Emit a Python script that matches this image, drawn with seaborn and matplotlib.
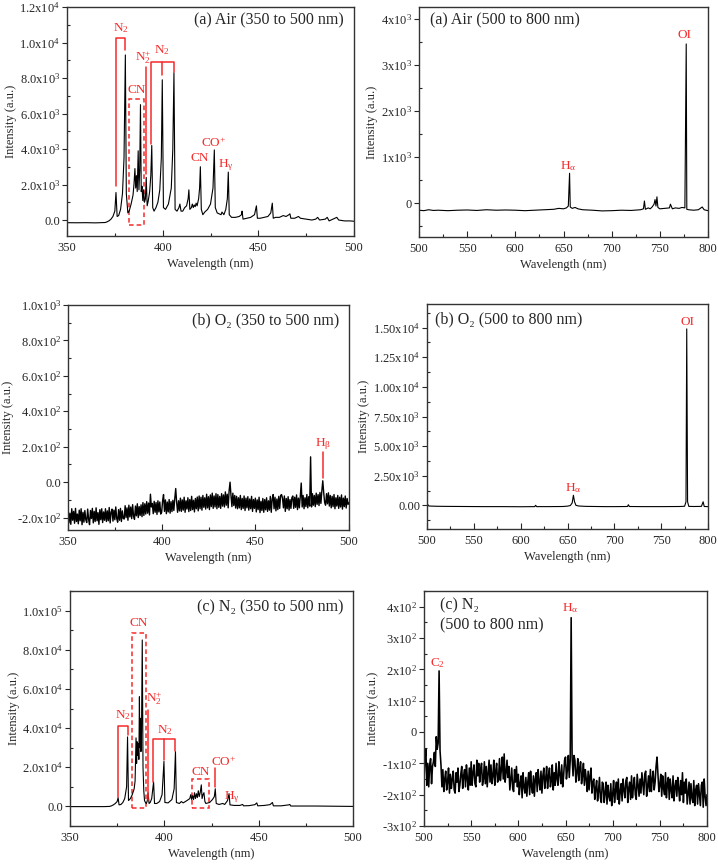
import numpy as np
import pandas as pd
import matplotlib
matplotlib.use("Agg")
import matplotlib.pyplot as plt
from matplotlib.patches import Rectangle
from matplotlib.ticker import FixedLocator, FixedFormatter, MultipleLocator
import seaborn as sns

sns.set_theme(style="white")
plt.rcParams['font.family'] = ['Liberation Serif', 'DejaVu Serif']
plt.rcParams['mathtext.fontset'] = 'custom'
plt.rcParams['mathtext.rm'] = 'Liberation Serif'
plt.rcParams['mathtext.default'] = 'regular'

RED = '#f52a2a'

# ---------------- DATA ----------------
# (a) Air 350-500 nm
airA_wl = [350, 355, 360, 365, 368, 370, 371, 372, 373, 374, 375, 375.6, 376.2, 377, 378, 379, 379.8, 380.5,
           381, 381.8, 382.5, 383.5, 384.5, 385, 385.5, 385.9, 386.3, 386.7, 387.2, 387.6, 388.0, 388.4,
           388.8, 389.2, 389.6, 390, 390.5, 391.0, 391.4, 391.9, 392.5, 393.2, 393.8, 394.3, 394.8, 395.5,
           396.5, 397.5, 398.5, 399.3, 399.8, 400.4, 401.5, 403, 404.5, 405.3, 405.9, 406.5, 407.5, 408.5,
           409, 409.6, 410.5, 411.5, 412.5, 413.3, 413.7, 414.2, 415, 415.5, 416, 416.5, 417, 417.5, 418,
           418.8, 419.3, 419.7, 420.2, 421, 422, 423.5, 425, 426.3, 427, 427.5, 428.5, 429.5, 430.5, 431,
           432, 433, 433.8, 434.3, 434.8, 436, 438, 440, 441.2, 441.5, 442, 444, 446, 448, 449, 449.5, 451,
           453, 455, 456.5, 457.3, 457.8, 459, 461, 463, 464.5, 466, 466.5, 467, 469, 471, 472, 475, 478,
           480, 481, 482, 485, 486, 487, 489, 491, 492, 495, 498, 500]
airA_int = [-150, -155, -150, -160, -150, -140, -100, -40, 50, 200, 500, 1550, 200, 250, 600, 1500, 3500, 9300,
            1500, 400, 500, 900, 1400, 2000, 2900, 1800, 2500, 1600, 3900, 1700, 2800, 6500,
            1600, 1900, 1100, 1700, 1000, 1200, 2400, 800, 1100, 1600, 2500, 4200, 700, 500,
            700, 1000, 1700, 3500, 7900, 700, 600, 900, 1800, 4000, 8300, 600, 500, 700,
            900, 500, 500, 700, 800, 1200, 1700, 600, 700, 900, 700, 850, 750, 950, 800,
            1200, 1800, 3000, 600, 300, 450, 600, 900, 1800, 3950, 700, 400, 350, 300, 450,
            300, 600, 1200, 2700, 300, 150, 150, 200, 300, 500, 50, 100, 150, 300, 800, 100, 100,
            150, 200, 400, 950, 100, 150, 150, 250, 200, 300, 350, 100, 100, 200, 100, 50, 0,
            50, 150, 0, 50, 150, -50, 50, 150, 0, -50, -50, -70]

# (a) Air 500-800 nm
airB_wl = [500, 505, 510, 515, 520, 530, 540, 550, 560, 570, 580, 590, 600, 610, 620, 630, 640, 645, 650,
           653, 655, 656.3, 657, 659, 662, 665, 670, 680, 690, 700, 710, 720, 730, 733, 734, 735, 738, 740,
           742, 744, 745, 746, 747, 748, 750, 755, 760, 761, 763, 766, 770, 773, 776, 777.4, 778, 780, 785,
           790, 794, 795, 796, 800]
airB_int = [-150, -160, -140, -155, -150, -160, -150, -145, -155, -140, -150, -145, -150, -160, -150, -140,
            -130, -110, -120, -100, -60, 650, -80, -110, -90, -120, -140, -150, -165, -160, -150, -155, -140,
            -120, 50, -130, -100, -120, -80, -20, 80, -60, 140, -90, -120, -110, -100, -20, -120, -100, -110,
            -90, -100, 3450, -130, -140, -150, -140, -80, -110, -140, -160]

# (b) O2 350-500 nm, sampled every 0.5 nm
o2A_int = [
    -155, -230, -175, -238, -150, -215, -165, -232, -148, -222, -180, -235, -158, -218, -150, -240, -170, -226, -160, -212,
    -228, -152, -210, -240, -160, -205, -148, -230, -165, -222, -145, -218, -172, -238, -155, -212, -150, -228, -168, -215,
    -150, -222, -162, -218, -143, -230, -170, -152, -220, -158, -212, -140, -205, -226, -155, -215, -148, -222, -162, -205,
    -208, -133, -200, -145, -215, -130, -196, -140, -206, -127, -193, -210, -135, -190, -122, -200, -138, -188, -128, -195,
    -115, -188, -122, -180, -110, -175, -118, -185, -68, -140, -120, -178, -108, -170, -115, -182, -105, -168, -112, -180,
    -170, -105, -70, -165, -100, -178, -112, -168, -98, -175, -110, -166, -102, -160, -92, -36, -115, -170, -105, -162,
    -90, -165, -100, -158, -85, -170, -105, -152, -88, -166, -98, -160, -80, -155, -102, -168, -92, -150, -84, -162,
    -78, -150, -85, -158, -75, -142, -88, -152, -68, -145, -82, -155, -72, -138, -62, -148, -78, -140, -65, -150,
    -70, -142, -80, -148, -65, -135, -72, -140, -55, -130, -68, -145, -50, 0, -75, -138, -62, -132, -75, -146,
    -80, -150, -88, -145, -75, -155, -92, -148, -78, -160, -90, -145, -82, -158, -95, -150, -80, -165, -98, -148,
    -90, -168, -100, -155, -85, -172, -108, -160, -92, -170, -98, -156, -88, -165, -105, -158, -80, -170, -95, -70,
    -150, -85, -162, -95, -155, -80, -148, -75, -70, -90, -145, -78, -165, -92, -150, -82, -158, -98, -148, -88,
    -78, -148, -85, -142, -72, -155, -90, -145, -80, -5, -140, -75, -150, -88, -138, -70, -145, -82, -135, 143,
    -140, -65, -130, -75, -138, -62, -125, -70, -132, -58, -120, -50, 8, -60, -115, -130, -65, -122, -60, -135,
    -75, -145, -80, -138, -70, -150, -88, -135, -75, -148, -85, -140, -72, -152, -90, -138, -78, -146, -92, -125,
    -115]
o2A_wl = np.linspace(350, 500, len(o2A_int))

# (b) O2 500-800 nm
o2B_wl = [500, 501, 502, 510, 520, 540, 560, 580, 600, 615, 616, 617, 630, 645, 650, 653, 655, 656.3, 657.5,
          659, 662, 670, 690, 700, 714, 715, 716, 730, 750, 770, 775, 776.5, 777.3, 778.2, 779.5, 785, 793,
          794.8, 796, 800]
o2B_int = [-50, 50, -60, -80, -90, -100, -110, -110, -120, -110, 0, -110, -110, -100, -70, -20, 200, 850, 300,
           0, -60, -90, -110, -110, -100, 50, -100, -110, -110, -100, -80, 300, 14900, 300, -90, -100, -90,
           300, -100, -110]

# (c) N2 350-500 nm
n2A_wl = [350, 360, 368, 371, 372, 373, 374, 375, 375.5, 376, 377, 378, 379, 380, 380.5, 381, 382, 383, 384,
          384.5, 385, 385.3, 385.6, 385.9, 386.2, 386.5, 386.8, 387.0, 387.3, 387.6, 387.9, 388.3, 388.7,
          389.1, 389.5, 390.0, 390.5, 391.0, 391.4, 391.9, 392.5, 393.3, 394.3, 394.8, 396, 397.5, 398.8,
          399.8, 400.3, 402, 404, 405.2, 405.9, 406.4, 408, 409, 410, 412, 413.5, 414, 414.5, 415, 415.5,
          416, 416.5, 417, 417.5, 418, 418.5, 419, 419.6, 420, 420.5, 421, 421.5, 422, 424, 425.5, 426.5,
          427, 427.5, 429, 431, 432, 433.5, 434.3, 434.8, 437, 440, 441.5, 442, 445, 448, 449, 449.5, 453,
          456, 457.3, 457.8, 462, 466, 466.5, 467, 472, 480, 490, 500]
n2A_int = [-100, -100, -100, 0, 300, 800, 1500, 2500, 4500, 800, 1000, 2000, 4000, 10000, 35500, 3000, 4000,
           6000, 9000, 13000, 35000, 22000, 33000, 26000, 32000, 24000, 56000, 30000, 45000, 28000, 38000,
           85000, 20000, 8000, 3000, 2000, 1500, 3000, 7000, 1500, 2000, 4000, 12500, 1500, 1500, 2500, 6000,
           23000, 2000, 1800, 3500, 9000, 28000, 2000, 1500, 2500, 1800, 3000, 4000, 6000, 3500, 5500, 3500,
           7000, 4000, 6500, 4500, 8000, 5000, 7000, 11000, 4000, 6000, 7000, 2500, 1500, 2000, 3500, 5000,
           9000, 1500, 1000, 1500, 1000, 3000, 6500, 800, 500, 500, 1000, 300, 400, 900, 1800, 300, 500,
           900, 2000, 300, 300, 800, 1000, 200, 200, 200, 100, 0]

# (c) N2 500-800 nm, sampled every 1 nm
n2B_int = [
    -150, -90, -55, -170, -100, -175, -105, -85, -165, -110,
    -95, -65, -110, -15, -55, -35, 195, -60, -105, -175,
    -120, -190, -150, -125, -185, -160, -115, -195, -135, -180,
    -150, -125, -185, -195, -130, -160, -115, -190, -170, -135,
    -110, -180, -140, -120, -175, -105, -150, -185, -115, -170,
    -95, -170, -130, -105, -165, -175, -90, -140, -100, -160,
    -120, -100, -170, -150, -95, -165, -110, -175, -130, -90,
    -160, -105, -165, -140, -90, -170, -125, -100, -160, -150,
    -85, -155, -120, -80, -150, -70, -160, -130, -90, -145,
    -110, -185, -150, -115, -180, -190, -120, -160, -110, -175,
    -135, -200, -165, -140, -210, -130, -175, -195, -145, -205,
    -160, -130, -200, -125, -175, -195, -140, -205, -150, -130,
    -190, -120, -160, -185, -125, -195, -140, -115, -180, -150,
    -110, -180, -140, -115, -175, -155, -105, -185, -130, -170,
    -100, -150, -170, -95, -135, -165, -105, -175, -140, -90,
    -80, -150, -120, -75, -145, -90, 365, -80, -140, -75,
    -90, -160, -130, -85, -155, -115, -95, -165, -140, -100,
    -170, -120, -150, -190, -125, -185, -140, -115, -195, -160,
    -150, -215, -180, -155, -220, -190, -145, -210, -225, -160,
    -165, -225, -195, -160, -230, -170, -205, -220, -165, -235,
    -200, -155, -225, -185, -160, -215, -150, -230, -190, -165,
    -220, -150, -185, -210, -155, -145, -225, -180, -160, -215,
    -140, -210, -175, -145, -200, -215, -135, -170, -205, -150,
    -195, -130, -165, -200, -135, -125, -205, -175, -140, -190,
    -120, -190, -150, -125, -185, -160, -110, -80, -135, -190,
    -170, -135, -205, -140, -180, -200, -130, -210, -165, -145,
    -215, -150, -185, -210, -140, -220, -175, -155, -205, -145,
    -180, -220, -155, -200, -130, -225, -160, -195, -150, -230,
    -195, -160, -230, -165, -210, -225, -155, -235, -185, -170,
    -230, -165, -200, -235, -170, -160, -240, -150, -205, -235,
    -200]
n2B_wl = np.linspace(500, 800, len(n2B_int))

# tick labels
aL_ticks = [0, 2000, 4000, 6000, 8000, 10000, 12000]
aL_labels = ["0.0", "2.0x10$^3$", "4.0x10$^3$", "6.0x10$^3$", "8.0x10$^3$", "1.0x10$^4$", "1.2x10$^4$"]
aR_ticks = [0, 1000, 2000, 3000, 4000]
aR_labels = ["0", "1x10$^3$", "2x10$^3$", "3x10$^3$", "4x10$^3$"]
bL_ticks = [-200, 0, 200, 400, 600, 800, 1000]
bL_labels = ["-2.0x10$^2$", "0.0", "2.0x10$^2$", "4.0x10$^2$", "6.0x10$^2$", "8.0x10$^2$", "1.0x10$^3$"]
bR_ticks = [0, 2500, 5000, 7500, 10000, 12500, 15000]
bR_labels = ["0.00", "2.50x10$^3$", "5.00x10$^3$", "7.50x10$^3$", "1.00x10$^4$", "1.25x10$^4$", "1.50x10$^4$"]
cL_ticks = [0, 20000, 40000, 60000, 80000, 100000]
cL_labels = ["0.0", "2.0x10$^4$", "4.0x10$^4$", "6.0x10$^4$", "8.0x10$^4$", "1.0x10$^5$"]
cR_ticks = [-300, -200, -100, 0, 100, 200, 300, 400]
cR_labels = ["-3x10$^2$", "-2x10$^2$", "-1x10$^2$", "0", "1x10$^2$", "2x10$^2$", "3x10$^2$", "4x10$^2$"]

# ---------------- FIGURE ----------------
W, H = 718, 866
fig = plt.figure(figsize=(W / 100, H / 100), dpi=100)


def make_ax(l, t, r, b):
    return fig.add_axes([l / W, 1 - b / H, (r - l) / W, (b - t) / H])


def style(ax, xlim, xmaj, ylim, yt, yl, ymin):
    ax.set_xlim(*xlim)
    ax.set_ylim(*ylim)
    ax.xaxis.set_major_locator(MultipleLocator(xmaj))
    ax.xaxis.set_minor_locator(MultipleLocator(xmaj / 2))
    ax.yaxis.set_major_locator(FixedLocator(yt))
    ax.yaxis.set_major_formatter(FixedFormatter(yl))
    ax.yaxis.set_minor_locator(MultipleLocator(ymin))
    ax.tick_params(axis='x', which='major', direction='in', length=4, width=0.8, labelsize=9, pad=4,
                   bottom=True, top=False)
    ax.tick_params(axis='x', which='minor', direction='in', length=2.5, width=0.8, bottom=True, top=False)
    ax.tick_params(axis='y', which='major', direction='out', length=3.5, width=0.8, labelsize=9, pad=1.5,
                   left=True, right=False)
    ax.tick_params(axis='y', which='minor', direction='in', length=2.5, width=0.8, left=True, right=False)
    for s in ax.spines.values():
        s.set_color('#333333')
        s.set_linewidth(1.0)
    ax.set_xlabel("Wavelength (nm)", fontsize=9, labelpad=3)
    ax.set_ylabel("Intensity (a.u.)", fontsize=9, labelpad=2)
    ax.grid(False)


def spec(ax, wl, it, lw=0.8):
    df = pd.DataFrame({"wl": wl, "I": it})
    sns.lineplot(data=df, x="wl", y="I", ax=ax, color='black', lw=lw, estimator=None, sort=False)


def rl(ax, xs, ys, **kw):
    ax.plot(xs, ys, color=RED, lw=1.1, **kw)


def rt(ax, x, y, s, fs=9.5, ha='center', va='center'):
    ax.text(x, y, s, color=RED, fontsize=fs, ha=ha, va=va)


TFS = 11.5

# (a) left
ax = make_ax(67, 7, 354, 236)
spec(ax, airA_wl, airA_int)
style(ax, (350, 500), 50, (-900, 12000), aL_ticks, aL_labels, 1000)
ax.text(0.965, 0.94, "(a) Air (350 to 500 nm)", transform=ax.transAxes, ha='right', va='center', fontsize=TFS)
rl(ax, [375.5, 375.5, 380.5, 380.5], [1900, 10250, 10250, 9550])
rt(ax, 378, 10800, "N$_2$")
ax.add_patch(Rectangle((382.6, -260), 7.9, 7060, fill=False, ec=RED, lw=1.1, ls=(0, (3, 2))))
rt(ax, 386.6, 7350, "CN")
rl(ax, [391.4, 391.4], [2600, 8600])
rt(ax, 389.8, 9150, "N$_2^{+}$")
rl(ax, [393.8, 393.8, 405.8, 405.8], [4300, 8900, 8900, 8350])
rl(ax, [399.7, 399.7], [8900, 8150])
rt(ax, 399.7, 9600, "N$_2$")
rt(ax, 419.6, 3500, "CN")
rt(ax, 426.8, 4350, "CO$^{+}$")
rt(ax, 433.0, 3100, "H$_γ$")

# (a) right
ax = make_ax(419, 7, 708, 237)
spec(ax, airB_wl, airB_int)
style(ax, (500, 800), 50, (-730, 4250), aR_ticks, aR_labels, 500)
ax.text(0.037, 0.94, "(a) Air (500 to 800 nm)", transform=ax.transAxes, ha='left', va='center', fontsize=TFS)
rt(ax, 654.5, 800, "H$_α$")
rt(ax, 775.5, 3650, "OI")

# (b) left
ax = make_ax(68, 305, 349, 530)
spec(ax, o2A_wl, o2A_int, lw=1.0)
style(ax, (350, 500), 50, (-270, 1000), bL_ticks, bL_labels, 100)
ax.text(0.965, 0.93, "(b) O\u2082 (350 to 500 nm)", transform=ax.transAxes, ha='right', va='center', fontsize=TFS)
rl(ax, [486.3, 486.3], [22, 172])
rt(ax, 486.3, 215, "H$_β$")

# (b) right
ax = make_ax(427, 304, 708, 529)
spec(ax, o2B_wl, o2B_int)
style(ax, (500, 800), 50, (-2000, 17000), bR_ticks, bR_labels, 1250)
ax.text(0.03, 0.93, "(b) O\u2082 (500 to 800 nm)", transform=ax.transAxes, ha='left', va='center', fontsize=TFS)
rt(ax, 656.5, 1450, "H$_α$")
rt(ax, 778, 15500, "OI")

# (c) left
ax = make_ax(70, 591, 353, 826)
spec(ax, n2A_wl, n2A_int)
style(ax, (350, 500), 50, (-10000, 110000), cL_ticks, cL_labels, 10000)
ax.text(0.965, 0.93, "(c) N\u2082 (350 to 500 nm)", transform=ax.transAxes, ha='right', va='center', fontsize=TFS)
rl(ax, [375.3, 375.3, 380.6, 380.6], [4900, 41300, 41300, 36300])
rt(ax, 377.9, 46500, "N$_2$")
ax.add_patch(Rectangle((382.7, -1000), 7.6, 89800, fill=False, ec=RED, lw=1.1, ls=(0, (3, 2))))
rt(ax, 386.4, 93500, "CN")
rl(ax, [391.6, 391.6], [3200, 49300])
rt(ax, 394.6, 55000, "N$_2^{+}$")
rl(ax, [393.9, 393.9, 405.9, 405.9], [12500, 34400, 34400, 28300])
rl(ax, [399.7, 399.7], [34400, 23600])
rt(ax, 400.4, 39000, "N$_2$")
ax.add_patch(Rectangle((414.7, -700), 8.9, 14600, fill=False, ec=RED, lw=1.1, ls=(0, (3, 2))))
rt(ax, 419.3, 17800, "CN")
rl(ax, [426.6, 426.6], [9700, 19700])
rt(ax, 431.5, 22700, "CO$^{+}$")
rt(ax, 436.0, 4800, "H$_γ$")

# (c) right
ax = make_ax(424, 591, 707, 826)
spec(ax, n2B_wl, n2B_int, lw=1.15)
style(ax, (500, 800), 50, (-300, 450), cR_ticks, cR_labels, 50)
ax.text(0.055, 0.94, "(c) N\u2082", transform=ax.transAxes, ha='left', va='center', fontsize=TFS)
ax.text(0.055, 0.855, "(500 to 800 nm)", transform=ax.transAxes, ha='left', va='center', fontsize=TFS)
rt(ax, 514, 220, "C$_2$")
rt(ax, 654.8, 395, "H$_α$")

fig.savefig("out.png", dpi=100)
